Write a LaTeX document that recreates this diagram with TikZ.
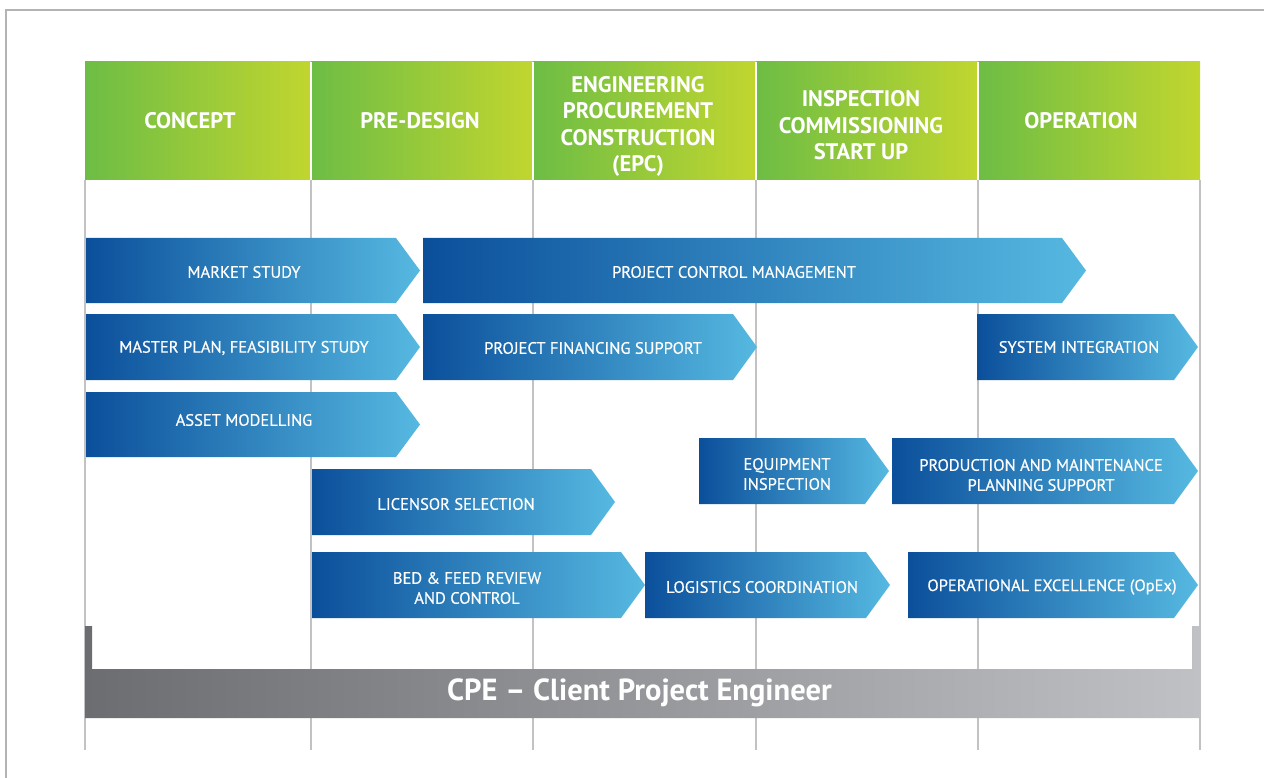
\documentclass[tikz,border=0pt]{standalone}
\usepackage{fontspec}
\setmainfont{PT Sans}
\newfontfamily\medfont{PT Sans}[FakeBold=0.5]
\definecolor{hdrL}{HTML}{6DBD45}
\definecolor{hdrR}{HTML}{C1D62F}
\definecolor{blA}{HTML}{0B4F9B}
\definecolor{blB}{HTML}{2474B6}
\definecolor{blC}{HTML}{56B9E1}
\definecolor{gyA}{HTML}{6C6D71}
\definecolor{gyB}{HTML}{C0C1C5}
\definecolor{framegray}{HTML}{B3B3B3}
\definecolor{vlinegray}{HTML}{C2C2C2}
\tikzset{
  hdrcell/.style={left color=hdrL, right color=hdrR},
  hdrtext/.style={text=white, font=\bfseries\fontsize{22.5}{26.5}\selectfont, align=center, inner sep=0pt},
  arrowshade/.style={left color=blA, middle color=blB, right color=blC},
  arrowtext/.style={text=white, font=\medfont\fontsize{16.5}{20}\selectfont, align=center, inner sep=0pt},
  vline/.style={draw=vlinegray, line width=1.3pt},
  cpeshade/.style={left color=gyA, right color=gyB},
  cpetext/.style={text=white, font=\bfseries\fontsize{30.5}{34}\selectfont, inner sep=0pt}
}
% name, x1, body end, ytop, ybot, text x, text y, text
\newcommand\chevbox[8]{%
  \shade[arrowshade] (#2,#4) -- (#3,#4) -- ({#3+24},{(#4+#5)/2}) -- (#3,#5) -- (#2,#5) -- cycle;
  \node[arrowtext] (#1) at (#6,#7) {#8};
}
\begin{document}
\begin{tikzpicture}[x=1pt,y=-1pt]
\useasboundingbox (0,0) rectangle (1264,778);
\fill[white] (0,0) rectangle (1264,778);
\draw[framegray, line width=1.5pt] (6,778) -- (6,10) -- (1264,10);
% column lines
\foreach \x in {85,311,533,756,978,1200} \draw[vline] (\x,180) -- (\x,750);
% header cells
\foreach \a/\b in {85/311,311/533,533/756,756/978,978/1200}
  \shade[hdrcell] (\a,62) rectangle (\b,180);
\foreach \x in {311,533,756,978} \draw[white, line width=1.3pt] (\x,62) -- (\x,180);
\node[hdrtext] (h1) at (190,121) {CONCEPT};
\node[hdrtext] (h2) at (420,121) {PRE-DESIGN};
\node[hdrtext] (h3) at (638,126.5) {ENGINEERING\\PROCUREMENT\\CONSTRUCTION\\(EPC)};
\node[hdrtext] (h4) at (861,125.5) {INSPECTION\\COMMISSIONING\\START UP};
\node[hdrtext] (h5) at (1081,121) {OPERATION};
% activity chevrons
\chevbox{market}{86}{396}{238}{303}{244}{272}{MARKET STUDY}
\chevbox{pcm}{423}{1062}{238}{303}{734}{272}{PROJECT CONTROL MANAGEMENT}
\chevbox{master}{86}{396}{314}{380}{244}{348}{MASTER PLAN, FEASIBILITY STUDY}
\chevbox{pfs}{423}{733}{314}{380}{593}{348}{PROJECT FINANCING SUPPORT}
\chevbox{sysint}{977}{1174}{314}{380}{1079}{347}{SYSTEM INTEGRATION}
\chevbox{asset}{86}{396}{392}{457}{244}{420}{ASSET MODELLING}
\chevbox{equip}{699}{865}{438}{504}{787}{474}{EQUIPMENT\\INSPECTION}
\chevbox{prod}{892}{1174}{438}{504}{1041}{475}{PRODUCTION AND MAINTENANCE\\PLANNING SUPPORT}
\chevbox{licensor}{312}{591}{469}{535}{456}{504}{LICENSOR SELECTION}
\chevbox{bedfeed}{312}{621}{552}{618}{467}{588}{BED \& FEED REVIEW\\AND CONTROL}
\chevbox{logistics}{645}{866}{552}{618}{762}{587}{LOGISTICS COORDINATION}
\chevbox{opex}{908}{1174}{552}{618}{1052}{587}{OPERATIONAL EXCELLENCE (OpEx)}
% CPE bar with bracket ends
\shade[cpeshade] (85,626) -- (92,626) -- (92,669) -- (1192,669) -- (1192,626) -- (1200,626) -- (1200,718) -- (85,718) -- cycle;
\node[cpetext] (cpe) at (639.5,693) {CPE – Client Project Engineer};
\end{tikzpicture}
\end{document}
